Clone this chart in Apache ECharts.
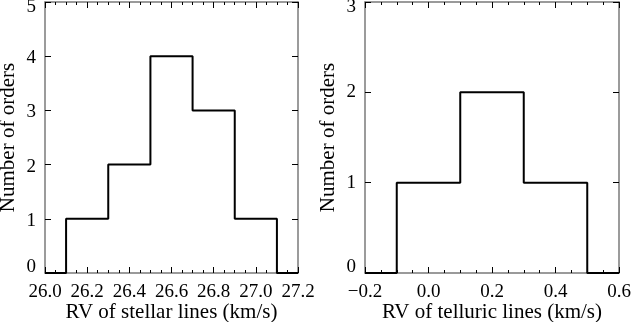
<!DOCTYPE html>
<html>
<head>
<meta charset="utf-8">
<script src="https://cdn.jsdelivr.net/npm/echarts@6/dist/echarts.min.js"></script>
<style>
  html, body { margin: 0; padding: 0; background: #fff; }
  #chart { width: 631px; height: 322px; }
</style>
</head>
<body>
<div id="chart"></div>
<script>
// bin edges and counts
const stellarEdges = [26.1, 26.3, 26.5, 26.7, 26.9, 27.1];
const stellarCounts = [1, 2, 4, 3, 1];
const telluricEdges = [-0.1, 0.1, 0.3, 0.5];
const telluricCounts = [1, 2, 1];

const stellarRange = [26.0, 27.2];
const telluricRange = [-0.2, 0.6];
const stellarYMax = 5;
const telluricYMax = 3;

const FONT = 'Liberation Serif';
const AXIS_GRAY = '#7a7a7a';

// turn edges + counts into a stepped outline, with the zero line out to the axis ends
function stepPoints(edges, counts, range) {
    const pts = [[range[0], 0], [edges[0], 0]];
    for (let i = 0; i < counts.length; i++) {
        pts.push([edges[i], counts[i]]);
        pts.push([edges[i + 1], counts[i]]);
    }
    pts.push([edges[edges.length - 1], 0]);
    pts.push([range[1], 0]);
    return pts;
}

function fmtX(v) {
    return v.toFixed(1).replace('-', '\u2212');
}

const labelText = { fontFamily: FONT, fontSize: 19, color: '#000' };

function xAxes(gridIndex, range, name) {
    const base = {
        gridIndex: gridIndex,
        type: 'value',
        min: range[0],
        max: range[1],
        interval: 0.2,
        axisLine: { show: true, onZero: false, lineStyle: { color: AXIS_GRAY, width: 1.5 } },
        axisTick: { show: true, inside: true, length: 6, lineStyle: { color: '#000', width: 1 } },
        minorTick: { show: true, splitNumber: 4, length: 3, lineStyle: { color: '#000', width: 1 } },
        splitLine: { show: false },
        minorSplitLine: { show: false }
    };
    return [
        Object.assign({}, base, {
            position: 'bottom',
            name: name,
            nameLocation: 'middle',
            nameGap: 29,
            nameMoveOverlap: false,
            nameTextStyle: { fontFamily: FONT, fontSize: 21, color: '#000' },
            axisLabel: Object.assign({ margin: 10, formatter: fmtX }, labelText)
        }),
        Object.assign({}, base, {
            position: 'top',
            axisLabel: { show: false }
        })
    ];
}

// end labels are nudged inside the frame, like the original plot
function yAxes(gridIndex, yMax, name, midShift) {
    const base = {
        gridIndex: gridIndex,
        type: 'value',
        min: 0,
        max: yMax,
        interval: 1,
        axisLine: { show: true, onZero: false, lineStyle: { color: AXIS_GRAY, width: 1.5 } },
        axisTick: { show: true, inside: true, length: 6, lineStyle: { color: '#000', width: 1 } },
        splitLine: { show: false }
    };
    return [
        Object.assign({}, base, {
            position: 'left',
            name: name,
            nameLocation: 'middle',
            nameGap: 26,
            nameMoveOverlap: false,
            nameTextStyle: { fontFamily: FONT, fontSize: 21, color: '#000' },
            axisLabel: Object.assign({
                margin: 9,
                formatter: function (v) {
                    if (v === 0) return '{lo|' + v + '}';
                    if (v === yMax) return '{hi|' + v + '}';
                    return '{mid|' + v + '}';
                },
                rich: {
                    lo: Object.assign({ padding: [0, 0, 12, 0] }, labelText),
                    hi: Object.assign({ padding: [10, 0, 0, 0] }, labelText),
                    mid: Object.assign({ padding: [midShift, 0, 0, 0] }, labelText)
                }
            }, labelText)
        }),
        Object.assign({}, base, {
            position: 'right',
            axisLabel: { show: false }
        })
    ];
}

const chart = echarts.init(document.getElementById('chart'));

const option = {
    animation: false,
    backgroundColor: '#fff',
    grid: [
        { left: 45, right: 333, top: 2, bottom: 49, outerBoundsMode: 'none' },
        { left: 365, right: 12, top: 2, bottom: 49, outerBoundsMode: 'none' }
    ],
    xAxis: [].concat(
        xAxes(0, stellarRange, 'RV of stellar lines (km/s)'),
        xAxes(1, telluricRange, 'RV of telluric lines (km/s)')
    ),
    yAxis: [].concat(
        yAxes(0, stellarYMax, 'Number of orders', 4),
        yAxes(1, telluricYMax, 'Number of orders', 0)
    ),
    series: [
        {
            type: 'line',
            xAxisIndex: 0,
            yAxisIndex: 0,
            data: stepPoints(stellarEdges, stellarCounts, stellarRange),
            showSymbol: false,
            lineStyle: { color: '#000', width: 2 },
            z: 1
        },
        {
            type: 'line',
            xAxisIndex: 2,
            yAxisIndex: 2,
            data: stepPoints(telluricEdges, telluricCounts, telluricRange),
            showSymbol: false,
            lineStyle: { color: '#000', width: 2 },
            z: 1
        }
    ]
};

chart.setOption(option);
</script>
</body>
</html>
